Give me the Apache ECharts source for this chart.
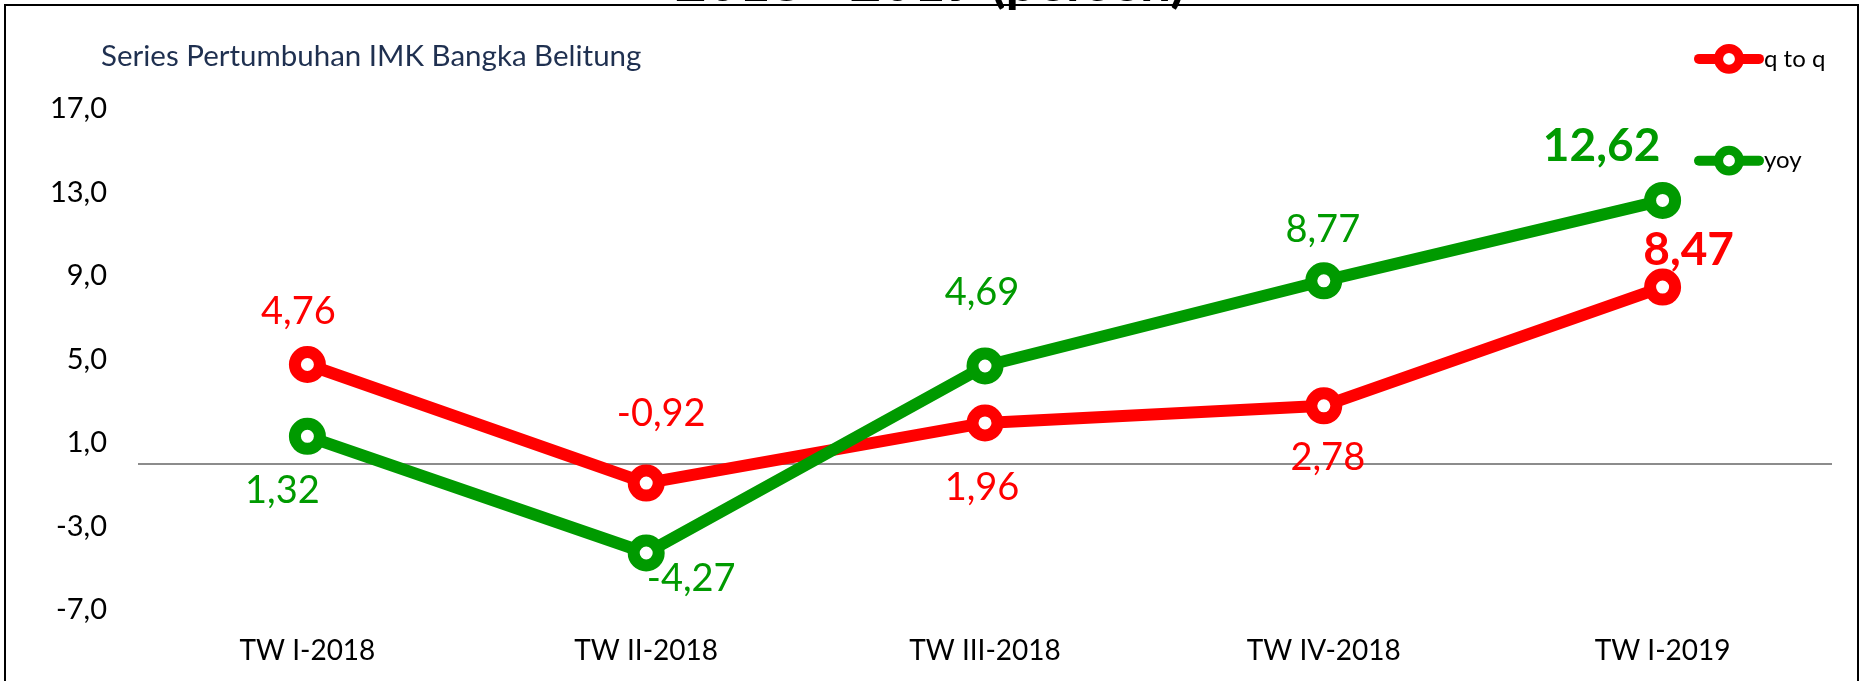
<!DOCTYPE html>
<html>
<head>
<meta charset="utf-8">
<script src="https://cdn.jsdelivr.net/npm/echarts@6/dist/echarts.min.js"></script>
<style>
  html, body { margin: 0; padding: 0; background: #fff; }
  #chart { width: 1862px; height: 681px; }
</style>
</head>
<body>
<div id="chart"></div>
<script>
// Quarterly growth of IMK (micro & small manufacturing), Bangka Belitung
const categories = ['TW I-2018', 'TW II-2018', 'TW III-2018', 'TW IV-2018', 'TW I-2019'];
const qtoqValues = [4.76, -0.92, 1.96, 2.78, 8.47];
const yoyValues = [1.32, -4.27, 4.69, 8.77, 12.62];
const seriesNames = ['q to q', 'yoy'];
const yTicks = { min: -7, max: 17, step: 4 };

// label placement relative to each point (pixels), and which label is emphasised
const qtoqLabelOffsets = [[-9, -53], [15, -69], [-3, 65], [4, 52], [26, -37]];
const yoyLabelOffsets = [[-25, 54], [45, 26], [-3, -73], [-1, -51], [-61, -54]];
const emphasisIndex = 4;

const RED = '#ff0000';
const GREEN = '#009a00';
const FONT = 'Lato';

const fmt = v => v.toFixed(2).replace('.', ',');

function buildData(values, offsets, color) {
  return values.map((v, i) => ({
    value: v,
    label: {
      show: true,
      position: 'inside',
      offset: offsets[i],
      formatter: () => fmt(v),
      color: color,
      fontFamily: FONT,
      fontSize: i === emphasisIndex ? 46 : 38,
      fontWeight: i === emphasisIndex ? 'bold' : 'normal'
    }
  }));
}

function lineSeries(name, values, offsets, color, extra) {
  return Object.assign({
    name: name,
    type: 'line',
    data: buildData(values, offsets, color),
    symbol: 'circle',
    symbolSize: 25,
    lineStyle: { color: color, width: 12, cap: 'round' },
    itemStyle: { color: '#fff', borderColor: color, borderWidth: 12 },
    z: 3
  }, extra || {});
}

const chart = echarts.init(document.getElementById('chart'), null, { renderer: 'canvas' });

chart.setOption({
  animation: false,
  backgroundColor: '#fff',
  title: {
    text: 'Series Pertumbuhan IMK Bangka Belitung',
    left: 101,
    top: 41,
    padding: 0,
    textStyle: { fontFamily: FONT, fontSize: 29.5, fontWeight: 'normal', color: '#1f3050' }
  },
  legend: {
    orient: 'vertical',
    left: 1694,
    top: 44,
    padding: 0,
    itemWidth: 60,
    itemHeight: 26,
    itemGap: 72,
    data: seriesNames,
    textStyle: { fontFamily: FONT, fontSize: 24, color: '#000' },
    lineStyle: { width: 10, cap: 'round' },
    itemStyle: { color: '#fff', borderWidth: 9 }
  },
  grid: { left: 138, right: 30, top: 109, bottom: 71, containLabel: false },
  xAxis: {
    type: 'category',
    data: categories,
    boundaryGap: true,
    axisLine: { show: false, onZero: false },
    axisTick: { show: false },
    splitLine: { show: false },
    axisLabel: { margin: 27, fontFamily: FONT, fontSize: 28, color: '#000' }
  },
  yAxis: {
    type: 'value',
    min: yTicks.min,
    max: yTicks.max,
    interval: yTicks.step,
    axisLine: { show: false },
    axisTick: { show: false },
    splitLine: { show: false },
    axisLabel: {
      margin: 31,
      fontFamily: FONT,
      fontSize: 29,
      color: '#000',
      formatter: v => v.toFixed(1).replace('.', ',')
    }
  },
  graphic: [
    {
      type: 'rect',
      shape: { x: 5, y: 5, width: 1853, height: 720 },
      style: { fill: 'none', stroke: '#000', lineWidth: 2 },
      z: 10
    },
    {
      type: 'text',
      x: 930,
      y: -17,
      style: {
        text: '2018 - 2019 (persen)',
        font: 'bold 55px Lato',
        fill: '#000',
        textAlign: 'center',
        textVerticalAlign: 'middle'
      },
      z: 11
    }
  ],
  series: [
    lineSeries(seriesNames[0], qtoqValues, qtoqLabelOffsets, RED, {
      markLine: {
        silent: true,
        symbol: 'none',
        label: { show: false },
        lineStyle: { color: '#8c8c8c', width: 2, type: 'solid' },
        data: [{ yAxis: 0 }],
        z: 1
      }
    }),
    lineSeries(seriesNames[1], yoyValues, yoyLabelOffsets, GREEN)
  ]
});
</script>
</body>
</html>
